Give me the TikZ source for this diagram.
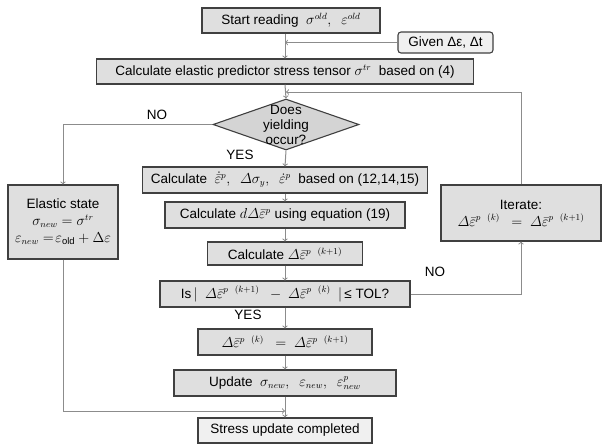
\documentclass[tikz,border=0pt]{standalone}
\usepackage{fontspec}
\setmainfont{Liberation Sans}
\usepackage{amsmath,amssymb}
\usetikzlibrary{shapes,arrows}
\definecolor{boxfill}{HTML}{DFDFDF}
\definecolor{boxline}{HTML}{404040}
\definecolor{flowline}{HTML}{8C8C8C}
\definecolor{lightfill}{HTML}{F0F0F0}
\newcommand{\dep}[1]{\varDelta\bar{\varepsilon}^{p\;\;\,(#1)}}

\begin{document}
\begin{tikzpicture}[x=1pt,y=-1pt,box/.style={draw=boxline,fill=boxfill,line width=1.1pt,inner sep=0pt,font=\fontsize{13.5}{16}\selectfont},dmd/.style={diamond,draw=boxline,fill=boxfill!95!black,line width=1.1pt,inner sep=0pt,minimum width=146pt,minimum height=51pt},flow/.style={->,draw=flowline,line width=1pt},lbl/.style={font=\fontsize{13.5}{16}\selectfont,inner sep=0pt}]
		\useasboundingbox (0,0) rectangle (603,445);
		\node (start)[box,minimum width=178pt,minimum height=25pt] at (291,20.5){Start reading\ \ $\sigma^{old},\ \ \varepsilon^{old}$};
		\node (given)[box,fill=lightfill,rounded corners=3pt,minimum width=95pt,minimum height=21pt] at (445.5,42.5){Given Δε, Δt};
		\node (pred)[box,minimum width=377pt,minimum height=25pt] at (285,71.5){Calculate elastic predictor stress tensor $\sigma^{tr}$\ \ based on (4)};
		\node (dia)[dmd] at (286,124.5){};
		\node (diatxt)[lbl,align=center,font=\fontsize{13.5}{15}\selectfont] at (dia.center){Does\\yielding\\occur?};
		\node (calc1)[box,minimum width=285pt,minimum height=26pt] at (285,180){Calculate\ \ $\dot{\bar{\varepsilon}}^{p},\ \ \varDelta\sigma_{y},\ \ \dot{\varepsilon}^{p}$\ \ based on (12,14,15)};
		\node (calc2)[box,minimum width=240pt,minimum height=26pt] at (285,215){Calculate $d\varDelta\bar{\varepsilon}^{p}$ using equation (19)};
		\node (calc3)[box,minimum width=155pt,minimum height=23pt] at (285,253.5){Calculate $\dep{k+1}$};
		\node (tol)[box,minimum width=250pt,minimum height=26pt] at (285,294){Is\,$|$\ \ $\dep{k+1}\ \ -\ \dep{k}$\ \ $|$\,≤ TOL?};
		\node (upd)[box,minimum width=174pt,minimum height=26pt] at (285,342){$\dep{k}\ \ =\ \dep{k+1}$};
		\node (new)[box,minimum width=222pt,minimum height=26pt] at (285,383){Update\ \ $\sigma_{new},\ \ \varepsilon_{new},\ \ \varepsilon^{p}_{new}$};
		\node (stress)[box,fill=lightfill,minimum width=174pt,minimum height=25pt] at (285,430.5){Stress update completed};
		\node (elastic)[box,align=center,minimum width=110pt,minimum height=74pt,font=\fontsize{13.5}{17}\selectfont] at (63,222){Elastic state\\$\sigma_{new}=\sigma^{tr}$\\$\varepsilon_{new}=\!\varepsilon_{\mathrm{old}}+\Delta\varepsilon$};
		\node (iter)[box,align=center,minimum width=160pt,minimum height=56pt,font=\fontsize{13.5}{17}\selectfont] at (521,213){Iterate:\\$\dep{k}\ \ =\ \dep{k+1}$};
		\coordinate (loop) at (286,92);
		\coordinate (join) at (285,411);
		\draw[flow] (pred.north |- start.south) -- (pred.north);
		\draw[flow] (given.west) -- (pred.north |- given.west);
		\draw[flow] (pred.south) -- (dia.north);
		\draw[flow] (iter.north) |- (loop);
		\draw[flow] (dia.west) -| (elastic.north);
		\draw[flow] (dia.south) -- (calc1.north);
		\draw[flow] (calc1.south) -- (calc2.north);
		\draw[flow] (calc2.south) -- (calc3.north);
		\draw[flow] (calc3.south) -- (tol.north);
		\draw[flow] (tol.south) -- (upd.north);
		\draw[flow] (tol.east) -| (iter.south);
		\draw[flow] (upd.south) -- (new.north);
		\draw[flow] (new.south) -- (stress.north);
		\draw[flow] (elastic.south) |- (join);
		\node (no1)[lbl] at (157,115){NO};
		\node (yes1)[lbl] at (240,155){YES};
		\node (no2)[lbl] at (435,272){NO};
		\node (yes2)[lbl] at (248,315){YES};
		\end{tikzpicture}
\end{document}
